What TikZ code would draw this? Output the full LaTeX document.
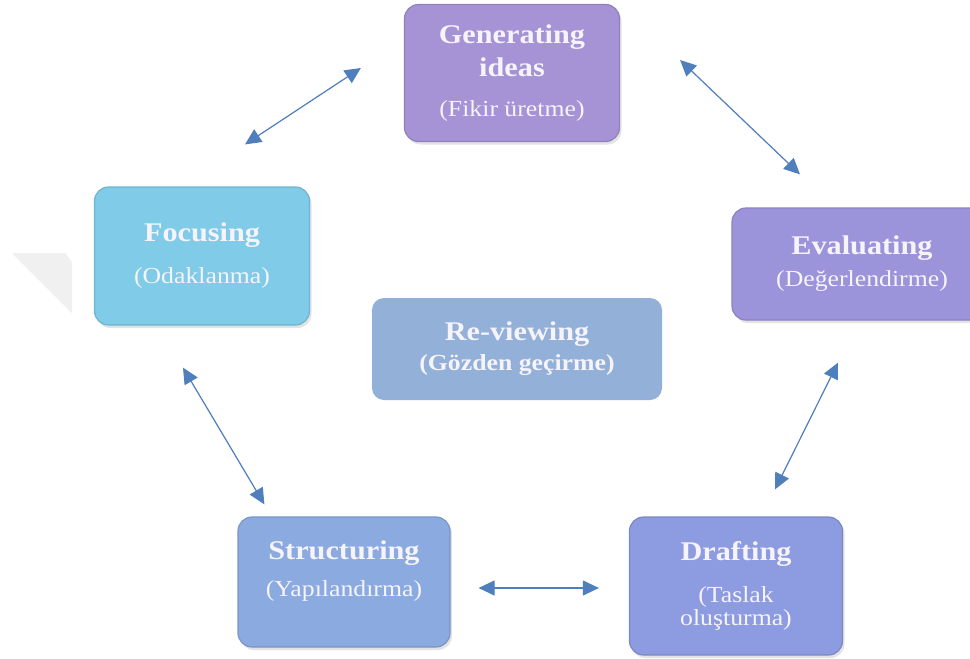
\documentclass[tikz,border=0pt]{standalone}
\usepackage{fontspec}
\setmainfont[FakeStretch=1.12]{Liberation Serif}
\usetikzlibrary{arrows.meta,shadows}
\definecolor{genc}{HTML}{A593D5}
\definecolor{focc}{HTML}{7FCBE8}
\definecolor{evac}{HTML}{9C94DA}
\definecolor{revc}{HTML}{93B0D8}
\definecolor{strc}{HTML}{8AAAE0}
\definecolor{drac}{HTML}{8D9BE0}
\definecolor{link}{HTML}{4F7FBC}
\definecolor{txt}{HTML}{F6F3FB}
\newcommand\hdr[1]{{\bfseries #1}}
\newcommand\subt[1]{{\fontsize{23}{27}\selectfont #1}}

\begin{document}
\begin{tikzpicture}[
    x=1pt,y=-1pt,
    box/.style={rounded corners=14pt,align=center,inner sep=0pt,text=txt,font=\fontsize{27}{32}\selectfont},
    stage/.style={box,fill=#1,draw=#1!88!black,line width=1.2pt,
      drop shadow={shadow xshift=2pt,shadow yshift=-3pt,opacity=0.22}},
    arrow/.style={{Triangle[length=16pt,width=15pt]}-{Triangle[length=16pt,width=15pt]},draw=link,fill=link,line width=1.2pt}
  ]
    \clip (0,0) rectangle (970,659);
    \fill[white] (0,0) rectangle (970,659);
    \fill[gray!12] (12,253) -- (65,253) -- (72,262) -- (72,313) -- cycle;

    \node[stage=genc,minimum width=215pt,minimum height=137pt] (gen) at (512,73)
      {\hdr{Generating}\\[1pt]\hdr{ideas}\\[8pt]\subt{(Fikir üretme)}};
    \node[stage=focc,minimum width=215pt,minimum height=138pt] (foc) at (202,256)
      {\hdr{Focusing}\\[10pt]\subt{(Odaklanma)}};
    \node[stage=evac,minimum width=260pt,minimum height=112pt] (eva) at (862,264)
      {\hdr{Evaluating}\\\subt{(Değerlendirme)}};
    \node[box,fill=revc,minimum width=290pt,minimum height=102pt,rounded corners=12pt] (rev) at (517,349)
      {\hdr{Re-viewing}\\[-2pt]\subt{\bfseries (Gözden geçirme)}};
    \node[stage=strc,minimum width=212pt,minimum height=130pt] (str) at (344,582)
      {\hdr{Structuring}\\[5pt]\subt{(Yapılandırma)}\\[-6pt]\mbox{}};
    \node[stage=drac,minimum width=213pt,minimum height=138pt] (dra) at (736,586)
      {\hdr{Drafting}\\[10pt]\subt{(Taslak}\\[-9pt]\subt{oluşturma)}};

    \draw[arrow] ([shift={(43,-42)}]foc.north) -- ([shift={(-43,-5)}]gen.west);
    \draw[arrow] ([shift={(60,-13)}]gen.east) -- ([shift={(-62,-33)}]eva.north);
    \draw[arrow] ([shift={(-19,42)}]foc.south) -- ([shift={(27,-12)}]str.north west);
    \draw[arrow] ([shift={(-24,42)}]eva.south) -- ([shift={(39,-27)}]dra.north);
    \draw[arrow] ([shift={(28,6)}]str.east) -- ([shift={(-30,2)}]dra.west);
  \end{tikzpicture}
\end{document}
